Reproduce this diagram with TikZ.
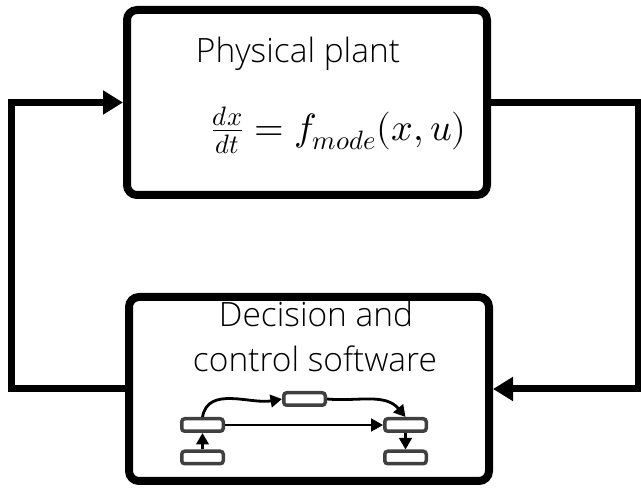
\documentclass[tikz,border=0pt]{standalone}
\usepackage{fontspec}
\usepackage{unicode-math}
\newfontfamily\lightfont{Open Sans Light}
\usetikzlibrary{arrows.meta}
\definecolor{boxgray}{HTML}{404040}
\tikzset{
  bigbox/.style={draw=black, line width=8pt, rounded corners=10pt, minimum width=360pt, minimum height=185pt, inner sep=0pt, fill=white},
  loopline/.style={line width=7pt, -{Triangle[length=20pt,width=23pt]}},
  sbox/.style={draw=boxgray, fill=white, line width=3.5pt, rounded corners=3pt, minimum width=41.5pt, minimum height=12.5pt, inner sep=0pt},
  sarrow/.style={line width=2.8pt, -{Triangle[length=11.5pt,width=12.5pt]}},
  thinarrow/.style={line width=2pt, -{Triangle[length=12pt,width=13pt]}},
  lbl/.style={font=\lightfont\fontsize{33.5}{40}\selectfont, inner sep=0pt, anchor=base},
  eqn/.style={font=\fontsize{38}{44}\selectfont, inner sep=0pt}
}
\begin{document}
\begin{tikzpicture}[x=1pt,y=1pt]
\useasboundingbox (0,0) rectangle (641,488);
% main boxes
\node[bigbox] (plant) at (307,385.5) {};
\node[bigbox, minimum height=184pt] (soft) at (309,99) {};
% texts
\node[lbl] (ptxt) at (298,425) {Physical plant};
\node[eqn] (eq) at (339,358) {$\frac{dx}{dt}=f_{mode}(x,u)$};
\node[lbl] (dec1) at (316,161) {Decision and};
\node[lbl] (dec2) at (315,116) {control software};
% loop coordinates
\coordinate (rx) at (638,0);
\coordinate (lx) at (11.5,0);
\draw[loopline] (plant.east) -- (plant.east -| rx) -- (soft.east -| rx) -- (soft.east);
\draw[loopline] (soft.west) -- (soft.west -| lx) -- (plant.west -| lx) -- (plant.west);
% small graph
\node[sbox] (a) at (202.5,63) {};
\node[sbox] (b) at (202.5,30.5) {};
\node[sbox] (c) at (304.5,89) {};
\node[sbox] (d) at (405.5,63) {};
\node[sbox] (e) at (405.5,30.5) {};
\draw[sarrow] (b.north) -- (a.south);
\draw[sarrow] (d.south) -- (e.north);
\draw[thinarrow] (a.east) -- (d.west);
\draw[sarrow] (a.north) to[out=80,in=190] (c.west);
\draw[sarrow] (c.east) to[out=-5,in=130] (d.north);
\end{tikzpicture}
\end{document}
